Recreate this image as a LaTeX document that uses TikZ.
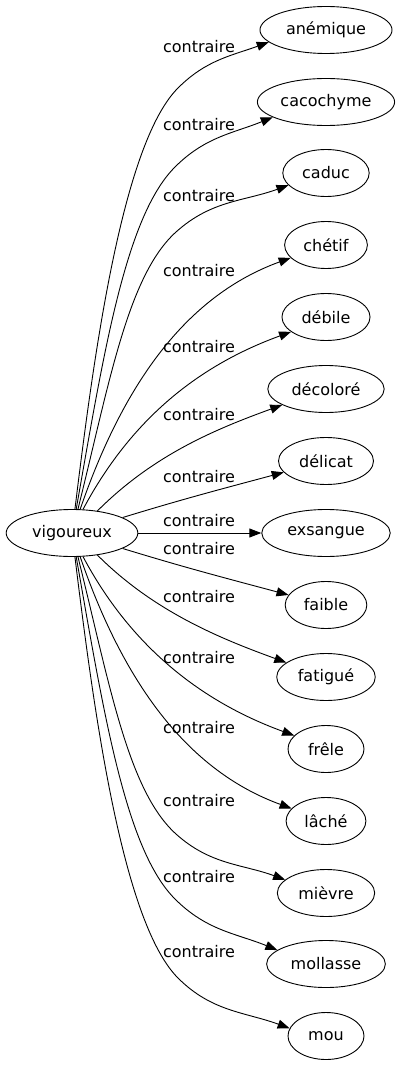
\documentclass[tikz,border=0pt]{standalone}
\usepackage{fontspec}
\setmainfont{DejaVu Sans}
\usetikzlibrary{arrows.meta,shapes.geometric}

\tikzset{
  mot/.style={draw, ellipse, line width=0.9pt, inner xsep=6.7pt,
    minimum height=47pt, minimum width=76pt},
  lien/.style={-{Triangle[length=12pt,width=9pt]}, line width=0.9pt},
  etiq/.style={inner sep=0pt}
}

\begin{document}
\begin{tikzpicture}[x=1pt,y=-1pt,font=\fontsize{16}{19}\selectfont]
\useasboundingbox (0,0) rectangle (404,1067);

\node[mot] (vigoureux) at (72,533) {vigoureux};

\node[mot] (anemique)  at (326,30)   {anémique};
\node[mot, inner xsep=3pt] (cacochyme) at (326,102) {cacochyme};
\node[mot] (caduc)     at (326,173)  {caduc};
\node[mot] (chetif)    at (326,245)  {chétif};
\node[mot] (debile)    at (326,317)  {débile};
\node[mot] (decolore)  at (326,389)  {décoloré};
\node[mot] (delicat)   at (326,461)  {délicat};
\node[mot] (exsangue)  at (326,533)  {exsangue};
\node[mot] (faible)    at (326,605)  {faible};
\node[mot] (fatigue)   at (326,677)  {fatigué};
\node[mot] (frele)     at (326,749)  {frêle};
\node[mot] (lache)     at (326,821)  {lâché};
\node[mot] (mievre)    at (326,893)  {mièvre};
\node[mot] (mollasse)  at (326,964)  {mollasse};
\node[mot] (mou)       at (326,1036) {mou};

% coudes des arcs extremes
\coordinate (b1) at (178,88);
\coordinate (b2) at (175,167);
\coordinate (b3) at (176,232);
\coordinate (b13) at (176,834);
\coordinate (b14) at (175,899);
\coordinate (b15) at (178,978);

% vers le haut
\draw[lien] (vigoureux.83) to[out=83,in=225,out distance=150pt,in distance=80pt] (b1)
  to[out=45,in=200] (anemique.192);
\draw[lien] (vigoureux.80) to[out=80,in=225,out distance=160pt,in distance=70pt] (b2)
  to[out=45,in=202] (cacochyme.196);
\draw[lien] (vigoureux.76) to[out=76,in=222,out distance=130pt,in distance=65pt] (b3)
  to[out=42,in=200] (caduc.198);
\draw[lien] (vigoureux.71) to[out=71,in=200,out distance=150pt,in distance=100pt] (chetif.200);
\draw[lien] (vigoureux.65) to[out=62,in=200,out distance=110pt,in distance=90pt] (debile.203);
\draw[lien] (vigoureux.41) to[out=45,in=200,out distance=80pt,in distance=70pt] (decolore.200);
\draw[lien] (vigoureux.17) to[out=17,in=195] (delicat.195);
\draw[lien] (vigoureux) -- (exsangue);
% vers le bas
\draw[lien] (vigoureux.-17) to[out=-17,in=165] (faible.165);
\draw[lien] (vigoureux.-41) to[out=-45,in=160,out distance=80pt,in distance=70pt] (fatigue.160);
\draw[lien] (vigoureux.-65) to[out=-62,in=160,out distance=110pt,in distance=90pt] (frele.157);
\draw[lien] (vigoureux.-71) to[out=-71,in=160,out distance=150pt,in distance=100pt] (lache.160);
\draw[lien] (vigoureux.-76) to[out=-76,in=138,out distance=130pt,in distance=65pt] (b13)
  to[out=-42,in=160] (mievre.162);
\draw[lien] (vigoureux.-80) to[out=-80,in=135,out distance=160pt,in distance=70pt] (b14)
  to[out=-45,in=158] (mollasse.164);
\draw[lien] (vigoureux.-83) to[out=-83,in=135,out distance=150pt,in distance=80pt] (b15)
  to[out=-45,in=160] (mou.168);

\node[etiq] (l1)  at (199,47)  {contraire};
\node[etiq] (l2)  at (199,125) {contraire};
\node[etiq] (l3)  at (199,196) {contraire};
\node[etiq] (l4)  at (199,271) {contraire};
\node[etiq] (l5)  at (199,347) {contraire};
\node[etiq] (l6)  at (199,415) {contraire};
\node[etiq] (l7)  at (199,477) {contraire};
\node[etiq] (l8)  at (199,521) {contraire};
\node[etiq] (l9)  at (199,549) {contraire};
\node[etiq] (l10) at (199,597) {contraire};
\node[etiq] (l11) at (199,658) {contraire};
\node[etiq] (l12) at (199,728) {contraire};
\node[etiq] (l13) at (199,801) {contraire};
\node[etiq] (l14) at (199,877) {contraire};
\node[etiq] (l15) at (199,952) {contraire};
\end{tikzpicture}
\end{document}
